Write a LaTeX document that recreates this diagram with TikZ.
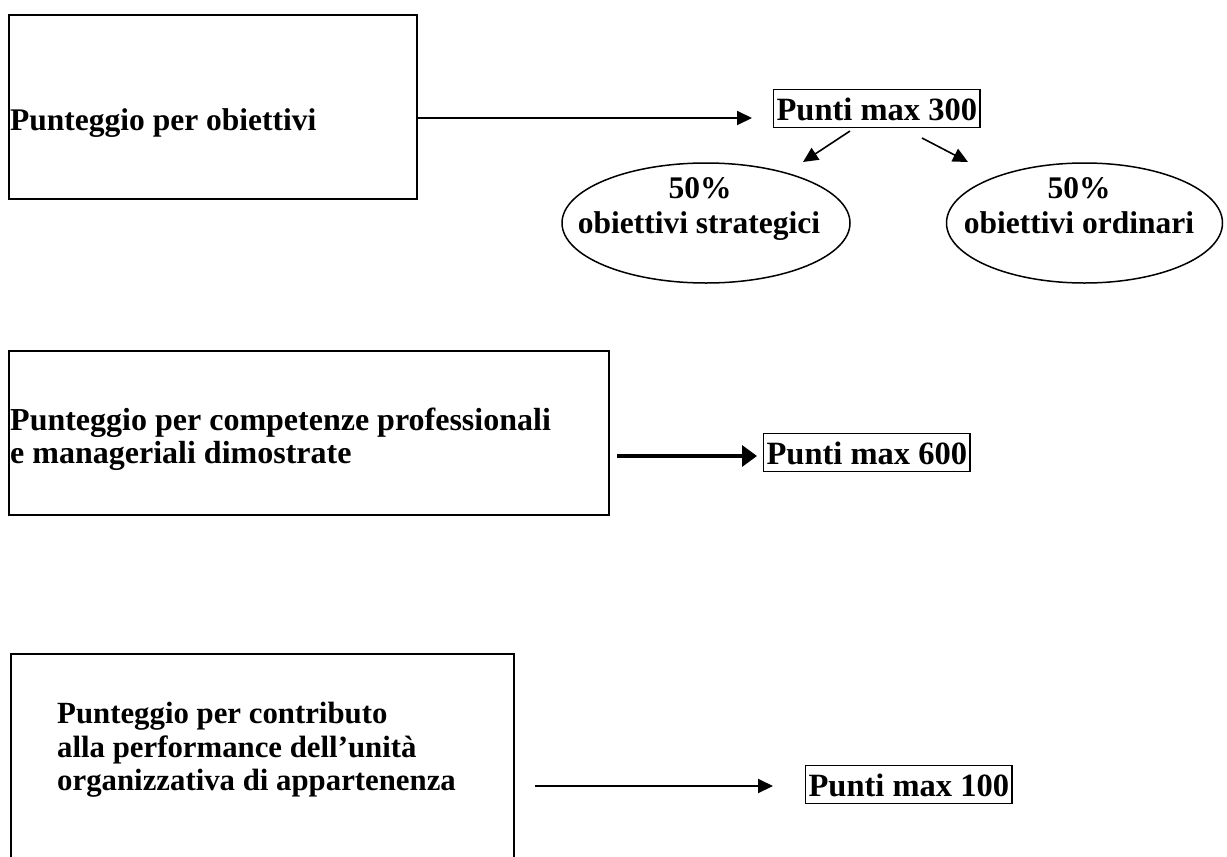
\documentclass[tikz,border=0pt]{standalone}
\usepackage{fontspec}
\setmainfont{Liberation Serif}
\usetikzlibrary{shapes.geometric,arrows.meta}
\begin{document}
\begin{tikzpicture}[x=1pt,y=-1pt,
  bigbox/.style={draw,line width=2pt,inner sep=0pt,anchor=north west},
  lbl/.style={font=\fontsize{31.5}{34}\selectfont\bfseries,inner sep=0pt,anchor=base west},
  lbltwo/.style={lbl,font=\fontsize{32}{34}\selectfont\bfseries},
  lblthree/.style={lbl,font=\fontsize{30.8}{34}\selectfont\bfseries},
  clbl/.style={font=\fontsize{31.5}{34}\selectfont\bfseries,inner sep=0pt,anchor=base},
  pbox/.style={draw,line width=1.2pt,font=\fontsize{32.5}{34}\selectfont\bfseries,
    inner xsep=3pt,inner ysep=5pt,text height=26pt,text depth=2pt,anchor=south west},
  oval/.style={draw,ellipse,line width=1.5pt,inner sep=0pt},
  arr/.style={line width=2pt,-{Triangle[length=15pt,width=14pt]}},
  arrthick/.style={line width=3.5pt,-{Triangle[length=15pt,width=21pt]}}
]
\useasboundingbox (0,0) rectangle (1227,857);
\clip (0,0) rectangle (1227,857);

% --- row 1 ---
\node[bigbox,minimum width=408pt,minimum height=184pt] (b1) at (8,14) {};
\node[lbl] (t1) at (10,130) {Punteggio per obiettivi};
\node[pbox] (p300) at (773,128) {Punti max 300};
\coordinate (a1e) at (752,118);
\draw[arr] (b1.east |- a1e) -- (a1e);

\node[oval,minimum width=288pt,minimum height=120pt] (e1) at (706,223) {};
\node[clbl] (e1a) at (700,198) {50\%};
\node[clbl] (e1b) at (699,233) {obiettivi strategici};

\node[oval,minimum width=276pt,minimum height=120pt] (e2) at (1084.5,223) {};
\node[clbl] (e2a) at (1079,198) {50\%};
\node[clbl] (e2b) at (1079,233) {obiettivi ordinari};

\coordinate (s1) at (850,131);
\coordinate (s1e) at (803,162);
\coordinate (s2) at (922,138);
\coordinate (s2e) at (968,162);
\draw[arr,line width=1.6pt] (s1) -- (s1e);
\draw[arr,line width=1.6pt] (s2) -- (s2e);

% --- row 2 ---
\node[bigbox,minimum width=600pt,minimum height=164pt] (b2) at (8,350) {};
\node[lbltwo] (t2a) at (10,430) {Punteggio per competenze professionali};
\node[lbltwo] (t2b) at (10,463) {e manageriali dimostrate};
\node[pbox] (p600) at (763,472) {Punti max 600};
\coordinate (a2e) at (757,456);
\draw[arrthick,shorten <=7pt] (b2.east |- a2e) -- (a2e);

% --- row 3 ---
\node[bigbox,minimum width=503pt,minimum height=260pt] (b3) at (10,653) {};
\node[lblthree] (t3a) at (57,723) {Punteggio per contributo};
\node[lblthree] (t3b) at (57,757) {alla performance dell’unità};
\node[lblthree] (t3c) at (57,790) {organizzativa di appartenenza};
\node[pbox] (p100) at (805,804) {Punti max 100};
\coordinate (a3e) at (773,786);
\draw[arr,shorten <=20pt] (b3.east |- a3e) -- (a3e);
\end{tikzpicture}
\end{document}
